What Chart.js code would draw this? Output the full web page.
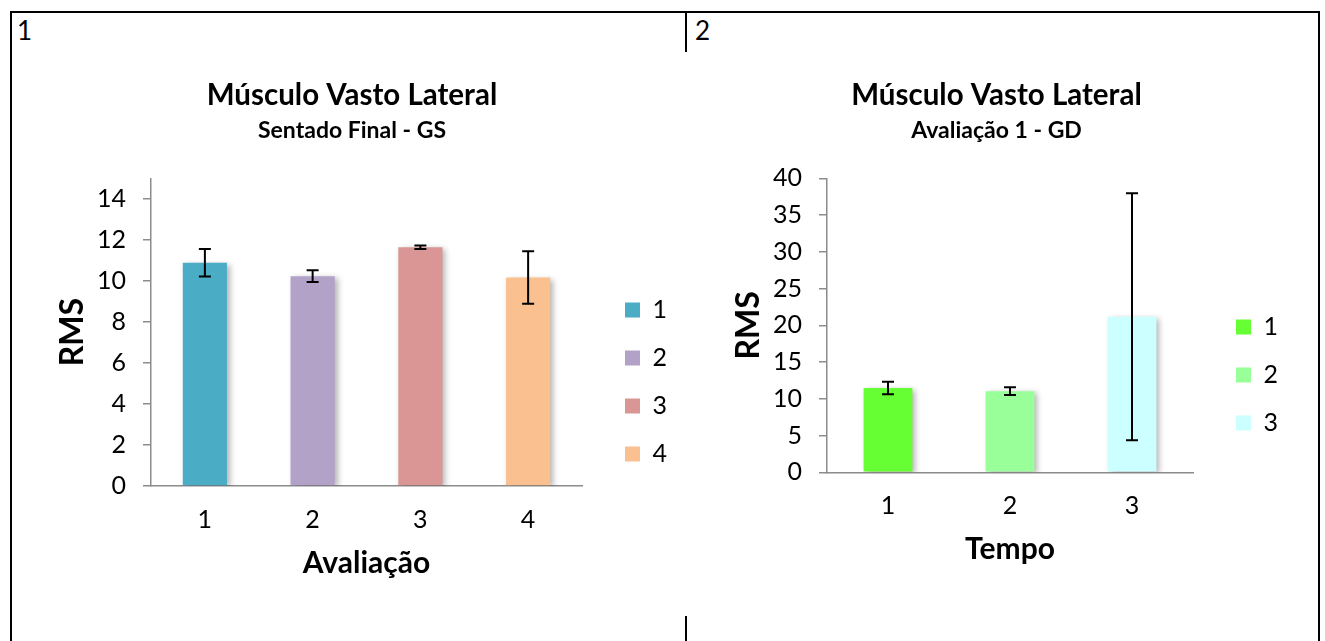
<!DOCTYPE html>
<html><head><meta charset="utf-8">
<script src="https://cdn.jsdelivr.net/npm/chart.js@4.4.0/dist/chart.umd.min.js"></script>
<style>
html,body{margin:0;padding:0;background:#fff;}
body{width:1325px;height:641px;position:relative;overflow:hidden;font-family:Lato,sans-serif;}
.ln{position:absolute;background:#000;}
.pl{position:absolute;font-family:Lato;font-size:26px;line-height:26px;color:#000;}
canvas{position:absolute;}
</style></head><body>
<div class="ln" style="left:10px;top:11px;width:1310px;height:2px"></div>
<div class="ln" style="left:10px;top:11px;width:2px;height:630px"></div>
<div class="ln" style="left:1318px;top:11px;width:2px;height:630px"></div>
<div class="ln" style="left:685px;top:11px;width:2px;height:41px"></div>
<div class="ln" style="left:685px;top:616px;width:2px;height:25px"></div>
<div class="pl" style="left:17px;top:17px">1</div>
<div class="pl" style="left:695px;top:17px">2</div>
<canvas id="cA" width="680" height="540" style="left:12px;top:60px"></canvas>
<canvas id="cB" width="617" height="540" style="left:688px;top:60px"></canvas>
<script>
// ---- Data: chart 1 ----
const catsA = ['1', '2', '3', '4'];
const valsA = [10.88, 10.23, 11.64, 10.16];
const errA = [0.67, 0.29, 0.09, 1.28];
const colorsA = ['#4BACC6', '#B3A2C7', '#D99694', '#FAC090'];
const ticksA = [0, 2, 4, 6, 8, 10, 12, 14];
const maxA = 15;

// ---- Data: chart 2 ----
const catsB = ['1', '2', '3'];
const valsB = [11.47, 11.04, 21.15];
const errB = [0.86, 0.52, 16.8];
const colorsB = ['#66FF33', '#99FF99', '#CCFFFF'];
const ticksB = [0, 5, 10, 15, 20, 25, 30, 35, 40];
const maxB = 40;

const TICK_FS = 25;
const LEG_FS = 25;
const LEG_PAD = 23;

const decor = {
  id: 'decor',
  afterLayout(chart, args, opts) {
    chart.boxes.forEach(b => {
      if (b.position === 'top' && !b.axis) { b.left += opts.titleDx; b.right += opts.titleDx; }
    });
    const lg = chart.legend;
    if (lg) {
      const dx = opts.legendX - (lg.left + LEG_PAD);
      const dy = opts.legendY - (lg.top + LEG_PAD + LEG_FS / 2);
      lg.left += dx; lg.right += dx; lg.top += dy; lg.bottom += dy;
    }
  },
  beforeDatasetsDraw(chart) {
    const ctx = chart.ctx;
    ctx.save();
    ctx.shadowColor = 'rgba(0,0,0,0.30)';
    ctx.shadowBlur = 6;
    ctx.shadowOffsetX = 3;
    ctx.shadowOffsetY = 2;
  },
  afterDatasetsDraw(chart, args, opts) {
    const ctx = chart.ctx;
    ctx.restore();
    const meta = chart.getDatasetMeta(0);
    const ys = chart.scales.y;
    const vals = chart.data.datasets[0].data;
    ctx.save();
    ctx.strokeStyle = '#000';
    ctx.lineWidth = 2;
    meta.data.forEach((bar, i) => {
      const e = opts.errors[i];
      const x = bar.x;
      const t = ys.getPixelForValue(vals[i] + e);
      const b = ys.getPixelForValue(vals[i] - e);
      ctx.beginPath();
      ctx.moveTo(x, t); ctx.lineTo(x, b);
      ctx.moveTo(x - 6, t); ctx.lineTo(x + 6, t);
      ctx.moveTo(x - 6, b); ctx.lineTo(x + 6, b);
      ctx.stroke();
    });
    ctx.restore();
  }
};

function make(id, c) {
  return new Chart(document.getElementById(id), {
    type: 'bar',
    data: {
      labels: c.cats,
      datasets: [{ data: c.vals, backgroundColor: c.colors, borderWidth: 0,
        categoryPercentage: 1, barPercentage: c.barPct }]
    },
    plugins: [decor],
    options: {
      responsive: false, animation: false, devicePixelRatio: 1,
      layout: { padding: { left: 0, right: c.padR, top: 0, bottom: 0 } },
      plugins: {
        title: { display: true, text: c.title, color: '#000',
          font: { family: 'Lato', size: 29.5, weight: 'bold' }, padding: { top: 17.3, bottom: 0 } },
        subtitle: { display: true, text: c.sub, color: '#000',
          font: { family: 'Lato', size: 23, weight: 'bold' }, padding: { top: 4.5, bottom: 33.5 } },
        legend: { display: true, position: 'right', align: 'start', maxWidth: 70,
          labels: { boxWidth: 15, boxHeight: 15, padding: LEG_PAD, color: '#000',
            font: { family: 'Lato', size: LEG_FS },
            generateLabels: () => c.cats.map((t, i) => ({ text: t, fillStyle: c.colors[i],
              strokeStyle: c.colors[i], lineWidth: 0, hidden: false, index: i, fontColor: '#000' })) } },
        tooltip: { enabled: false },
        decor: { errors: c.errs, legendX: c.legendX, legendY: c.legendY, titleDx: c.titleDx }
      },
      scales: {
        x: {
          grid: { display: false, drawTicks: false },
          border: { display: true, color: '#8c8c8c', width: 1.5 },
          ticks: { color: '#000', font: { family: 'Lato', size: TICK_FS }, padding: 19 },
          title: { display: true, text: c.xTitle, color: '#000',
            font: { family: 'Lato', size: 30, weight: 'bold' }, padding: { top: 0, bottom: c.xH - 95 } },
          afterFit(s) { s.height = c.xH; }
        },
        y: {
          min: 0, max: c.ymax,
          afterBuildTicks(s) { s.ticks = c.ticks.map(v => ({ value: v })); },
          grid: { display: true, drawOnChartArea: false, drawTicks: true, tickLength: 8,
            color: '#8c8c8c', lineWidth: 1.5 },
          border: { display: true, color: '#8c8c8c', width: 1.5 },
          ticks: { color: '#000', font: { family: 'Lato', size: TICK_FS }, padding: 17 },
          title: { display: true, text: 'RMS', color: '#000',
            font: { family: 'Lato', size: 32, weight: 'bold' }, padding: { top: 41.8, bottom: 0 } },
          afterFit(s) { s.width = 139; }
        }
      }
    }
  });
}

make('cA', { cats: catsA, vals: valsA, errs: errA, colors: colorsA, ticks: ticksA, ymax: maxA,
  title: 'Músculo Vasto Lateral', sub: 'Sentado Final - GS', xTitle: 'Avaliação',
  barPct: 0.41, padR: 40, legendX: 613, legendY: 250, titleDx: 20, xH: 114 });
make('cB', { cats: catsB, vals: valsB, errs: errB, colors: colorsB, ticks: ticksB, ymax: maxB,
  title: 'Músculo Vasto Lateral', sub: 'Avaliação 1 - GD', xTitle: 'Tempo',
  barPct: 0.40, padR: 42, legendX: 548, legendY: 267, titleDx: 21, xH: 127.7 });
</script>
</body></html>
